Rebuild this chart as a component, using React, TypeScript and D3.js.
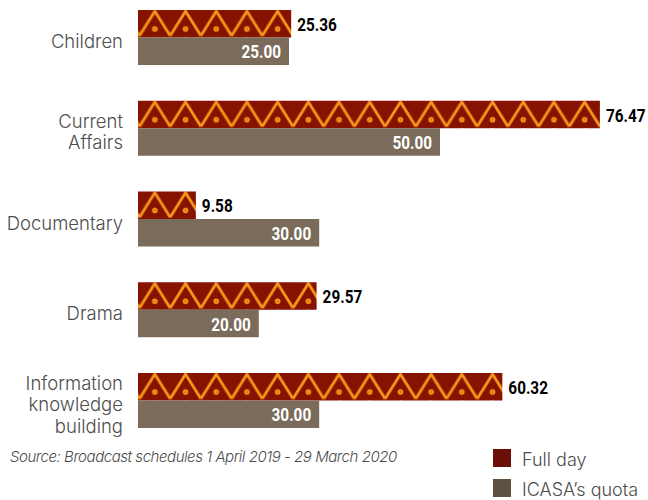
import React from "react";
import * as d3 from "d3";

const categories: string[][] = [
  ["Children"],
  ["Current", "Affairs"],
  ["Documentary"],
  ["Drama"],
  ["Information", "knowledge", "building"],
];
const fullDay = [25.36, 76.47, 9.58, 29.57, 60.32];
const quota = [25.0, 50.0, 30.0, 20.0, 30.0];
const seriesNames = ["Full day", "ICASA’s quota"];
const sourceNote = "Source: Broadcast schedules 1 April 2019 - 29 March 2020";

const W = 648;
const H = 500;
const RED = "#861200";
const ZIG = "#f5961a";
const BROWN = "#7b6b5b";
const LEG_RED = "#6b0e08";
const LEG_BROWN = "#5e5142";
const GREY = "#4d4d4d";
const LABEL_FONT = "Inter, 'Open Sans', sans-serif";
const VALUE_FONT = "Roboto, 'Liberation Sans', sans-serif";
const NARROW = 0.82;

export default function App() {
  const x = d3.scaleLinear().domain([0, 80]).range([138, 138 + 80 * 6.04]);
  const y = d3
    .scaleBand<number>()
    .domain(d3.range(categories.length))
    .range([10, 428])
    .paddingInner(0.394)
    .paddingOuter(0);
  const groupH = y.bandwidth();
  const bh = groupH / 2;
  const period = 30.7;

  const valueLabel = (
    key: string,
    px: number,
    py: number,
    txt: string,
    anchor: "start" | "end",
    fill: string
  ) => (
    <text
      key={key}
      transform={`translate(${px},${py}) scale(${NARROW},1)`}
      textAnchor={anchor}
      fontFamily={VALUE_FONT}
      fontWeight={700}
      fontSize={18.7}
      fill={fill}
    >
      {txt}
    </text>
  );

  return (
    <svg
      width={W}
      height={H}
      style={{ position: "absolute", left: 0, top: 0, background: "#fff" }}
    >
      <defs>
        {fullDay.map((_, i) => (
          <pattern
            key={i}
            id={`zig-${i}`}
            patternUnits="userSpaceOnUse"
            x={x(0) + 1.5}
            y={y(i)!}
            width={period}
            height={bh}
          >
            <rect width={period} height={bh} fill={RED} />
            <path
              d={`M0,${bh - 1.8} L${period / 2},1.2 L${period},${bh - 1.8}`}
              fill="none"
              stroke={ZIG}
              strokeWidth={2.8}
              strokeLinejoin="miter"
            />
            <circle cx={period / 2} cy={bh * 0.69} r={2.8} fill={ZIG} />
            <circle cx={period / 2} cy={bh * 0.69} r={0.9} fill="#cf5a0a" />
          </pattern>
        ))}
      </defs>

      {categories.map((lines, i) => {
        const cy = y(i)! + groupH / 2 + 8.5;
        const lh = 21.5;
        const start = cy - ((lines.length - 1) * lh) / 2 + 2;
        return (
          <text
            key={`c-${i}`}
            x={123}
            textAnchor="end"
            fontFamily={LABEL_FONT}
            fontWeight={300}
            fontSize={18.5}
            fill={GREY}
          >
            {lines.map((l, j) => (
              <tspan key={j} x={123} y={start + j * lh}>
                {l}
              </tspan>
            ))}
          </text>
        );
      })}

      {fullDay.map((v, i) => (
        <g key={`f-${i}`}>
          <rect
            x={x(0)}
            y={y(i)!}
            width={x(v) - x(0)}
            height={bh}
            fill={`url(#zig-${i})`}
          />
          {valueLabel(`fv-${i}`, x(v) + 6, y(i)! + bh / 2 + 7.2, v.toFixed(2), "start", "#000")}
        </g>
      ))}

      {quota.map((v, i) => (
        <g key={`q-${i}`}>
          <rect
            x={x(0)}
            y={y(i)! + bh}
            width={x(v) - x(0)}
            height={bh}
            fill={BROWN}
          />
          {valueLabel(
            `qv-${i}`,
            x(v) - 8,
            y(i)! + bh + bh / 2 + 7.2,
            v.toFixed(2),
            "end",
            "#fff"
          )}
        </g>
      ))}

      <text
        x={10}
        y={462}
        fontFamily={LABEL_FONT}
        fontWeight={300}
        fontStyle="italic"
        fontSize={15}
        letterSpacing={-0.45}
        fill={GREY}
      >
        {sourceNote}
      </text>

      {seriesNames.map((name, i) => (
        <g key={`l-${i}`} transform={`translate(493, ${449 + i * 30})`}>
          <rect width={18} height={18} fill={i === 0 ? LEG_RED : LEG_BROWN} />
          <text
            x={29}
            y={17}
            fontFamily={LABEL_FONT}
            fontWeight={300}
            fontSize={18}
            fill={GREY}
          >
            {name}
          </text>
        </g>
      ))}
    </svg>
  );
}
